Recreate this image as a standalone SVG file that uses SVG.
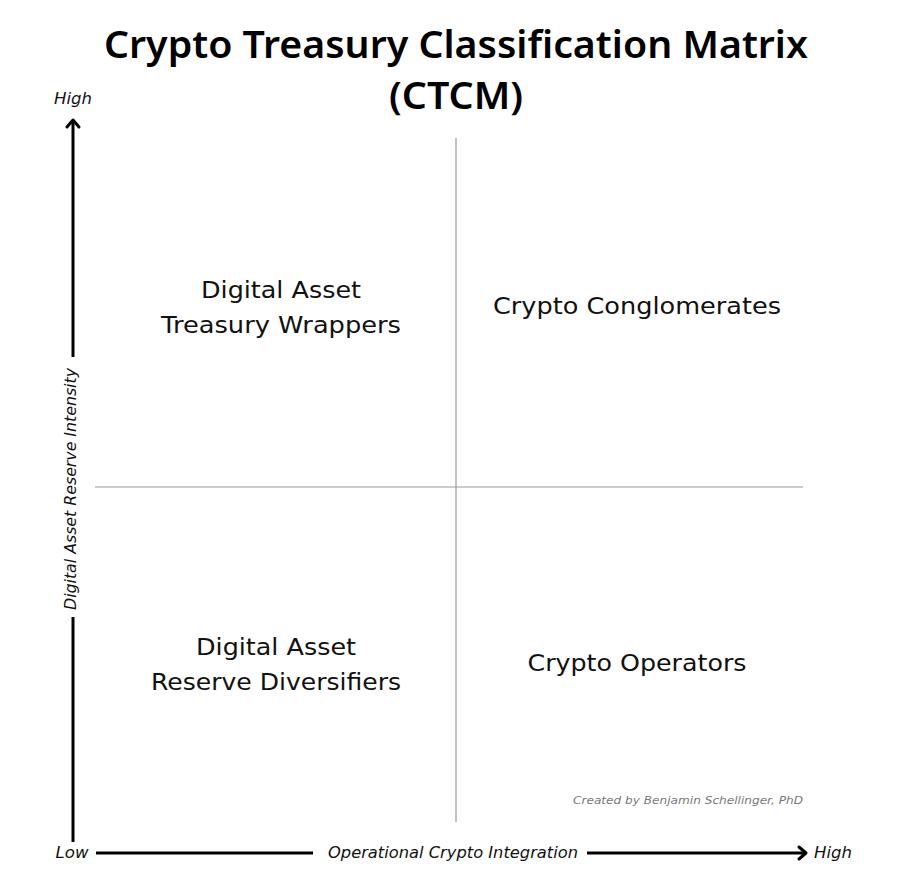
<svg xmlns="http://www.w3.org/2000/svg" width="913" height="892" viewBox="0 0 913 892">
<style>
text{font-family:"DejaVu Sans","Noto Sans",sans-serif;fill:#111}
.t{font-family:"Noto Sans","DejaVu Sans",sans-serif;font-size:37px;font-weight:600;fill:#000}
.q{font-size:23px}
.ax{font-size:15px;font-style:italic}
.cr{font-size:11px;font-style:italic;fill:#777}
.grid{stroke:#999;stroke-width:1.2;fill:none}
.axis{stroke:#000;stroke-width:3;fill:none}
.head{stroke:#000;stroke-width:3;fill:none;stroke-linecap:round;stroke-linejoin:round}
</style>
<rect width="913" height="892" fill="#fff"/>
<g id="title">
<text class="t" x="456" y="58" text-anchor="middle" textLength="704" lengthAdjust="spacingAndGlyphs">Crypto Treasury Classification Matrix</text>
<text class="t" x="456" y="109" text-anchor="middle" textLength="134" lengthAdjust="spacingAndGlyphs">(CTCM)</text>
</g>
<g id="connectors">
<line class="grid" x1="456" y1="138" x2="456" y2="822"/>
<line class="grid" x1="95" y1="487" x2="803" y2="487"/>
<line class="axis" x1="73" y1="122" x2="73" y2="357"/>
<line class="axis" x1="73" y1="617" x2="73" y2="842"/>
<polyline class="head" points="67,127 73,120 79,127"/>
<line class="axis" x1="96" y1="853" x2="313" y2="853"/>
<line class="axis" x1="587" y1="853" x2="804" y2="853"/>
<polyline class="head" points="799,847 806,853 799,859"/>
</g>
<g id="axis-labels">
<text class="ax" x="73" y="104" text-anchor="middle" textLength="38" lengthAdjust="spacingAndGlyphs">High</text>
<text class="ax" x="72" y="858" text-anchor="middle" textLength="33" lengthAdjust="spacingAndGlyphs">Low</text>
<text class="ax" x="833" y="858" text-anchor="middle" textLength="38" lengthAdjust="spacingAndGlyphs">High</text>
<text class="ax" x="453" y="858" text-anchor="middle" textLength="250" lengthAdjust="spacingAndGlyphs">Operational Crypto Integration</text>
<text class="ax" transform="translate(76,489) rotate(-90)" x="0" y="0" text-anchor="middle" textLength="242" lengthAdjust="spacingAndGlyphs">Digital Asset Reserve Intensity</text>
</g>
<g id="q-tl">
<text class="q" x="281" y="298" text-anchor="middle" textLength="160" lengthAdjust="spacingAndGlyphs">Digital Asset</text>
<text class="q" x="281" y="333" text-anchor="middle" textLength="240" lengthAdjust="spacingAndGlyphs">Treasury Wrappers</text>
</g>
<g id="q-tr">
<text class="q" x="637" y="314" text-anchor="middle" textLength="288" lengthAdjust="spacingAndGlyphs">Crypto Conglomerates</text>
</g>
<g id="q-bl">
<text class="q" x="276" y="655" text-anchor="middle" textLength="160" lengthAdjust="spacingAndGlyphs">Digital Asset</text>
<text class="q" x="276" y="690" text-anchor="middle" textLength="250" lengthAdjust="spacingAndGlyphs">Reserve Diversifiers</text>
</g>
<g id="q-br">
<text class="q" x="637" y="671" text-anchor="middle" textLength="219" lengthAdjust="spacingAndGlyphs">Crypto Operators</text>
</g>
<g id="credit">
<text class="cr" x="803" y="804" text-anchor="end" textLength="230" lengthAdjust="spacingAndGlyphs">Created by Benjamin Schellinger, PhD</text>
</g>
</svg>
